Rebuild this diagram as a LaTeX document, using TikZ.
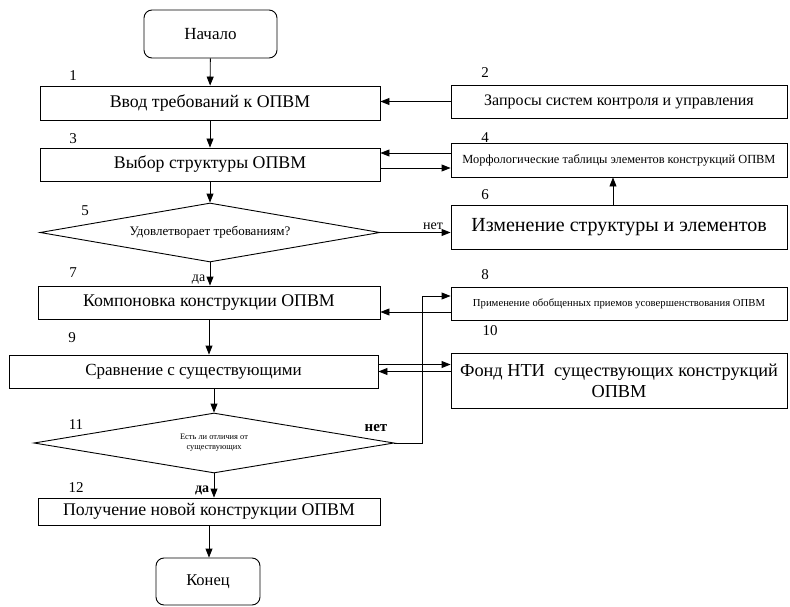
\documentclass[tikz,border=0pt]{standalone}
\usepackage{fontspec}
\setmainfont{Liberation Serif}
\usetikzlibrary{shapes.geometric,arrows.meta}

\begin{document}
\begin{tikzpicture}[x=1pt, y=-1pt,
    block/.style={draw, line width=0.9pt, inner sep=0pt, align=center},
    term/.style={block, rounded corners=8pt, minimum width=104pt, minimum height=47pt},
    leftcol/.style={block, font=\fontsize{17.8}{20}\selectfont},
    rightcol/.style={block, minimum width=336pt},
    choice/.style={draw, diamond, line width=0.9pt, inner sep=0pt, aspect=5.8, align=center},
    arr/.style={line width=0.9pt, -{Triangle[length=9pt,width=7pt]}},
    num/.style={font=\fontsize{15}{17}\selectfont},
    answer/.style={font=\fontsize{14}{16}\selectfont}
]

    %% Frame
    \useasboundingbox (0,0) rectangle (790,607);

    % Main column
    \node[term, minimum width=133pt, minimum height=48pt, font=\fontsize{17}{19}\selectfont]
        (start) at (210.5,34) {Начало};
    \node[leftcol, minimum width=340pt, minimum height=34pt] (b1) at (210,103) {Ввод требований к ОПВМ};
    \node[leftcol, minimum width=340pt, minimum height=33pt] (b3) at (210,164.5) {Выбор структуры ОПВМ};
    \node[choice, minimum width=340pt, minimum height=59pt, font=\fontsize{13}{15}\selectfont]
        (d5) at (210,232.5) {Удовлетворает требованиям?};
    \node[leftcol, minimum width=342pt, minimum height=33pt] (b7) at (209,302.5) {Компоновка конструкции ОПВМ};
    \node[leftcol, minimum width=369pt, minimum height=33pt, font=\fontsize{17}{19}\selectfont]
        (b9) at (193.5,371.5) {Сравнение с существующими};
    \node[choice, minimum width=360pt, minimum height=60pt, font=\fontsize{8.4}{10}\selectfont]
        (d11) at (214,443) {Есть ли отличия от\\существующих};
    \node[leftcol, minimum width=342pt, minimum height=27pt] (b12) at (209,511.5) {Получение новой конструкции ОПВМ};
    \node[term, font=\fontsize{16.5}{18}\selectfont] (end) at (208,581.5) {Конец};

    % Side column
    \node[rightcol, minimum height=33pt, font=\fontsize{16}{18}\selectfont]
        (b2) at (619,101.5) {Запросы систем контроля и управления};
    \node[rightcol, minimum height=34pt, font=\fontsize{12.4}{14}\selectfont]
        (b4) at (619,160) {Морфологические таблицы элементов конструкций ОПВМ};
    \node[rightcol, minimum height=44pt, font=\fontsize{20}{22}\selectfont]
        (b6) at (619,227) {Изменение структуры и элементов};
    \node[rightcol, minimum height=33pt, font=\fontsize{10.7}{12}\selectfont]
        (b8) at (619,303.5) {Применение обобщенных приемов усовершенствования ОПВМ};
    \node[rightcol, minimum height=55pt, font=\fontsize{18.3}{21}\selectfont]
        (b10) at (619,380.5) {Фонд НТИ\ \ существующих конструкций\\ОПВМ};

    % Numbers
    \node[num] (n1) at (73,76) {1};
    \node[num] (n3) at (73,139) {3};
    \node[num] (n5) at (85,211) {5};
    \node[num] (n7) at (73,273) {7};
    \node[num] (n9) at (72,338) {9};
    \node[num] (n11) at (76,425) {11};
    \node[num] (n12) at (76,488) {12};
    \node[num] (n2) at (485,73) {2};
    \node[num] (n4) at (485,138) {4};
    \node[num] (n6) at (485,195) {6};
    \node[num] (n8) at (485,275) {8};
    \node[num] (n10) at (490,331) {10};

    % Flow down
    \draw[arr] (start) -- (b1);
    \draw[arr] (b1.south) -- (b1.south |- b3.north);
    \draw[arr] (b3.south) -- (d5.north);
    \draw[arr] (d5.south) -- (d5.south |- b7.north)
        node[answer, pos=0.75, left=1pt] {да};
    \draw[arr] (b7.south) -- (b7.south |- b9.north);
    \draw[arr] (b9.south -| d11.north) -- (d11.north);
    \draw[arr] (d11.south) -- (d11.south |- b12.north)
        node[answer, font=\fontsize{14}{16}\bfseries, pos=0.72, left=1pt] {да};
    \draw[arr] (b12.south) -- (b12.south |- end.north);

    % Side links
    \coordinate (loopx) at (422,0);
    \draw[arr] (b2.west) -- (b2.west -| b1.east);
    \draw[arr] ([yshift=7pt]b4.west) -- ([yshift=7pt]b4.west -| b3.east);
    \draw[arr] ([yshift=-8pt]b4.west -| b3.east) -- ([yshift=-8pt]b4.west);
    \draw[arr] (d5.east) -- (d5.east -| b6.west)
        node[answer, pos=0.75, above=-1pt] {нет};
    \draw[arr] ([xshift=-6pt]b6.north) -- ([xshift=-6pt]b6.north |- b4.south);
    \draw[arr] ([yshift=-8.5pt]b8.west) -- ([yshift=-8.5pt]b8.west -| b7.east);
    \draw[arr] (d11.east) -- (d11.east -| loopx) |- ([yshift=7.5pt]b8.west);
    \node[answer, font=\fontsize{15}{17}\bfseries] (no11) at (376,428) {нет};
    \draw[arr] ([yshift=7pt]b9.east) -- ([yshift=7pt]b9.east -| b10.west);
    \draw[arr] (b10.west |- b9.east) -- (b9.east);

\end{tikzpicture}
\end{document}
